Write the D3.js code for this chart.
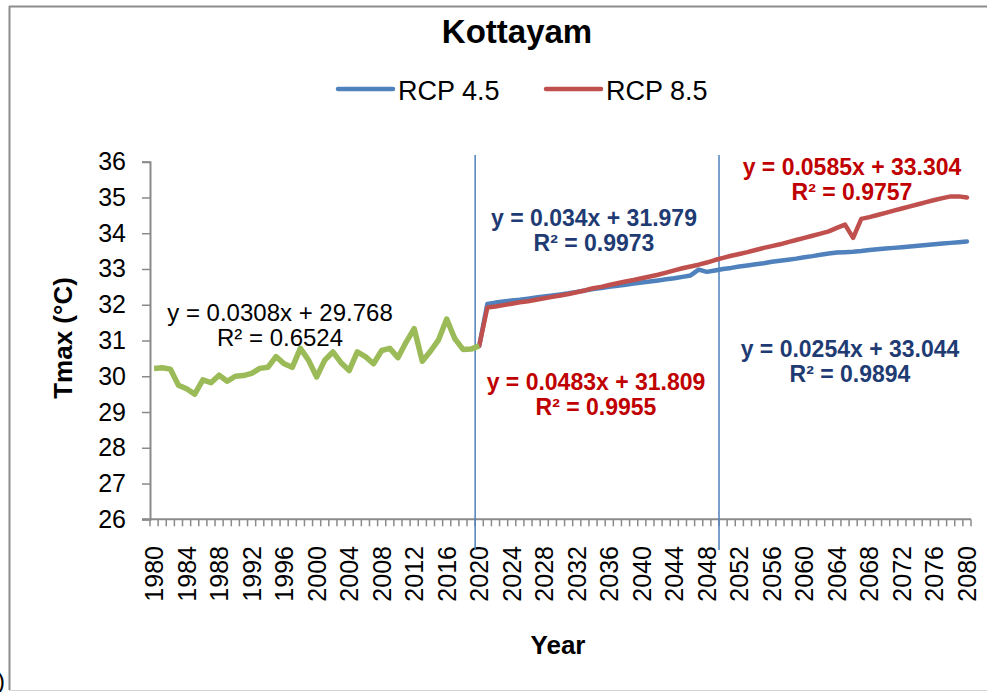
<!doctype html>
<html lang="en">
<head>
    <meta charset="UTF-8">
    <script src="https://d3js.org/d3.v7.min.js"></script>
    <title>Kottayam</title>
    <style>
        body { margin: 0; background: #fff; }
        text { font-family: "Liberation Sans", Arial, sans-serif; }
    </style>
</head>
<body>
<div class="container"></div>
<script>
    // categories (years on the x axis)
    let years = d3.range(1980, 2081);
    let histYears = d3.range(1980, 2021);
    let rcpYears = d3.range(2021, 2081);

    // observed Tmax 1980-2020
    let histTmax = [30.22, 30.24, 30.20, 29.75, 29.65, 29.50, 29.90, 29.82, 30.03, 29.86,
        30.00, 30.02, 30.08, 30.22, 30.25, 30.55, 30.35, 30.25, 30.78, 30.45,
        29.98, 30.45, 30.68, 30.38, 30.16, 30.68, 30.55, 30.35, 30.72, 30.78,
        30.52, 30.95, 31.33, 30.42, 30.70, 31.02, 31.60, 31.05, 30.75, 30.76,
        30.85];

    // projections 2021-2080
    let rcp45 = [32.02, 32.06, 32.09, 32.12, 32.14, 32.17, 32.20, 32.23, 32.26, 32.29,
        32.32, 32.36, 32.40, 32.44, 32.47, 32.50, 32.53, 32.56, 32.59, 32.62,
        32.65, 32.68, 32.71, 32.74, 32.78, 32.82, 32.98, 32.92, 32.96, 33.00,
        33.03, 33.07, 33.10, 33.13, 33.16, 33.20, 33.23, 33.26, 33.29, 33.33,
        33.36, 33.40, 33.43, 33.46, 33.47, 33.48, 33.50, 33.53, 33.55, 33.57,
        33.59, 33.61, 33.63, 33.65, 33.67, 33.69, 33.71, 33.73, 33.75, 33.77];
    let rcp85 = [31.92, 31.95, 31.99, 32.03, 32.07, 32.10, 32.14, 32.18, 32.22, 32.26,
        32.30, 32.35, 32.40, 32.46, 32.50, 32.55, 32.60, 32.65, 32.69, 32.74,
        32.79, 32.84, 32.90, 32.96, 33.02, 33.07, 33.12, 33.18, 33.25, 33.31,
        33.37, 33.42, 33.47, 33.53, 33.59, 33.64, 33.69, 33.75, 33.81, 33.87,
        33.93, 33.99, 34.05, 34.15, 34.24, 33.87, 34.40, 34.45, 34.51, 34.57,
        34.63, 34.69, 34.75, 34.81, 34.87, 34.93, 34.98, 35.03, 35.03, 35.00];

    let yTicks = d3.range(26, 37);
    let splitYears = [2020, 2050];
    let seriesNames = ["RCP 4.5", "RCP 8.5"];

    // trend line labels
    let trendEq = ["y = 0.0308x + 29.768", "y = 0.034x + 31.979", "y = 0.0483x + 31.809",
        "y = 0.0585x + 33.304", "y = 0.0254x + 33.044"];
    let trendR2 = ["R² = 0.6524", "R² = 0.9973", "R² = 0.9955", "R² = 0.9757", "R² = 0.9894"];

    let W = 987, H = 692;
    let svg = d3.select(".container").append("svg")
        .attr("width", W).attr("height", H);

    // frame round the chart
    svg.append("line").attr("x1", 9.5).attr("x2", 9.5).attr("y1", 6).attr("y2", 690)
        .attr("stroke", "#8c8c8c").attr("stroke-width", 2);
    svg.append("line").attr("x1", 9).attr("x2", W).attr("y1", 6.5).attr("y2", 6.5)
        .attr("stroke", "#8c8c8c").attr("stroke-width", 2);
    svg.append("line").attr("x1", 9).attr("x2", W).attr("y1", 690.5).attr("y2", 690.5)
        .attr("stroke", "#d4d4d4").attr("stroke-width", 1);
    svg.append("text").attr("x", -3).attr("y", 689).attr("font-size", 24).text(")");

    let x = d3.scaleBand().domain(years).range([150, 971]);
    let y = d3.scaleLinear().domain([26, 36]).range([519.3, 161.7]);
    let cx = d => x(d) + x.bandwidth() / 2;

    // y axis
    let yAxis = svg.append("g").attr("transform", "translate(150,0)")
        .call(d3.axisLeft(y).tickValues(yTicks).tickSize(8).tickPadding(16).tickFormat(d3.format("d")));
    yAxis.select(".domain").attr("stroke", "#8a8a8a").attr("stroke-width", 2);
    yAxis.selectAll(".tick line").attr("stroke", "#8a8a8a").attr("stroke-width", 1.5);
    yAxis.selectAll(".tick text").attr("font-size", 25).attr("fill", "#000")
        .attr("font-family", "Liberation Sans, Arial, sans-serif");

    // x axis: a tick between every year, label every 4 years
    let xg = svg.append("g");
    xg.append("line").attr("x1", 142).attr("x2", 971).attr("y1", y(26)).attr("y2", y(26))
        .attr("stroke", "#8a8a8a").attr("stroke-width", 2);
    xg.selectAll(".xt").data(years.concat([2081])).join("line")
        .attr("x1", d => d === 2081 ? 971 : x(d)).attr("x2", d => d === 2081 ? 971 : x(d))
        .attr("y1", y(26)).attr("y2", y(26) + 7)
        .attr("stroke", "#8a8a8a").attr("stroke-width", 1.5);
    xg.selectAll(".xl").data(years.filter(d => (d - 1980) % 4 === 0)).join("text")
        .attr("transform", d => "translate(" + cx(d) + "," + 546 + ") rotate(-90)")
        .attr("text-anchor", "end").attr("dy", "0.36em")
        .attr("font-size", 25).text(d => d);

    // split lines
    svg.selectAll(".split").data(splitYears).join("line")
        .attr("x1", d => x(d)).attr("x2", d => x(d))
        .attr("y1", 155).attr("y2", 550)
        .attr("stroke", "#4f81bd").attr("stroke-width", 1.5);

    // series
    let line = d3.line().x(d => cx(d[0])).y(d => y(d[1]));
    let start = [[2020, histTmax[histTmax.length - 1]]];
    let p45 = start.concat(rcpYears.map((d, i) => [d, rcp45[i]]));
    let p85 = start.concat(rcpYears.map((d, i) => [d, rcp85[i]]));
    let pHist = histYears.map((d, i) => [d, histTmax[i]]);
    let colors = ["#4f81bd", "#c0504d"];

    [p45, p85].forEach((p, i) => {
        svg.append("path").attr("d", line(p)).attr("fill", "none")
            .attr("stroke", colors[i]).attr("stroke-width", 4.5)
            .attr("stroke-linejoin", "round").attr("stroke-linecap", "round");
    });
    svg.append("path").attr("d", line(pHist)).attr("fill", "none")
        .attr("stroke", "#9bbb59").attr("stroke-width", 5.5)
        .attr("stroke-linejoin", "round").attr("stroke-linecap", "butt");

    // trend labels
    let notePos = [[280, 321], [594, 226], [596, 390], [852, 175], [850, 357]];
    let noteColor = ["#000", "#1f3b73", "#c00000", "#c00000", "#1f3b73"];
    trendEq.forEach((t, i) => {
        let g = svg.append("g").attr("text-anchor", "middle")
            .attr("fill", noteColor[i]).attr("font-size", i === 0 ? 24 : 23)
            .attr("font-weight", i === 0 ? "normal" : "bold");
        g.append("text").attr("x", notePos[i][0]).attr("y", notePos[i][1]).text(t);
        g.append("text").attr("x", notePos[i][0]).attr("y", notePos[i][1] + 25).text(trendR2[i]);
    });

    // title
    svg.append("text").attr("x", 517).attr("y", 43).attr("text-anchor", "middle")
        .attr("font-size", 33).attr("font-weight", "bold").text("Kottayam");

    // legend
    let legX = [338, 546];
    seriesNames.forEach((s, i) => {
        svg.append("line").attr("x1", legX[i]).attr("x2", legX[i] + 55)
            .attr("y1", 89).attr("y2", 89)
            .attr("stroke", colors[i]).attr("stroke-width", 4.5).attr("stroke-linecap", "round");
        svg.append("text").attr("x", legX[i] + 60).attr("y", 100)
            .attr("font-size", 27).text(s);
    });

    // axis titles
    svg.append("text").attr("transform", "translate(72,338) rotate(-90)")
        .attr("text-anchor", "middle").attr("font-size", 26).attr("font-weight", "bold")
        .text("Tmax (°C)");
    svg.append("text").attr("x", 558).attr("y", 654).attr("text-anchor", "middle")
        .attr("font-size", 26).attr("font-weight", "bold").text("Year");
</script>
</body>
</html>
